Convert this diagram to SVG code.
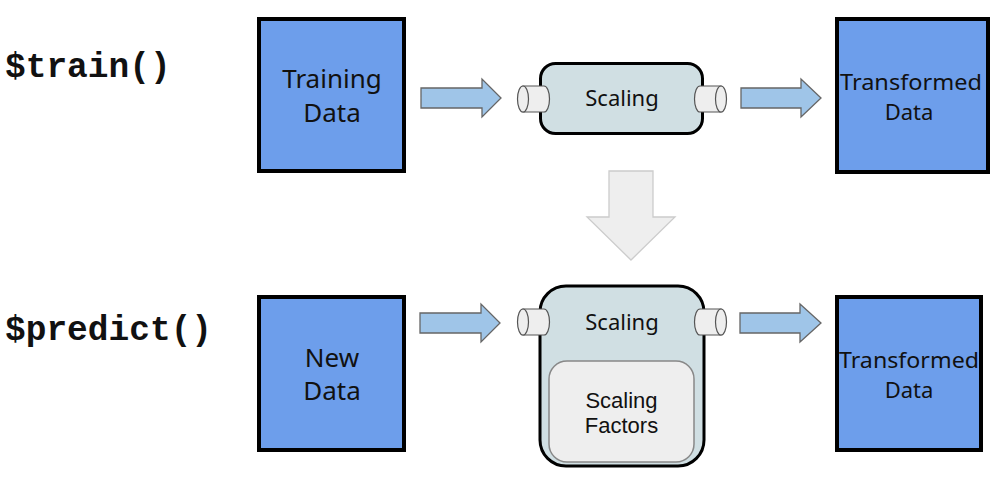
<svg xmlns="http://www.w3.org/2000/svg" width="992" height="477" viewBox="0 0 992 477">
<style>
.data{fill:#6d9eeb;stroke:#000;stroke-width:4}
.dt{font-family:"Noto Sans","Open Sans",sans-serif;font-size:26px;fill:#111;text-anchor:middle}
.tt{font-family:"Noto Sans","Open Sans",sans-serif;font-size:22px;fill:#111;text-anchor:middle}
.code{font-family:"Liberation Mono","Courier New",monospace;font-weight:bold;font-size:34.5px;fill:#111}
.proc{fill:#d0dfe3;stroke:#000;stroke-width:3}
.pt{font-family:"Noto Sans","Open Sans",sans-serif;font-size:22px;fill:#111;text-anchor:middle}
.cyl{fill:#eeeeee;stroke:#555;stroke-width:1.2}
.arr{fill:#9fc5e8;stroke:#666;stroke-width:1.3}
.inner{fill:#eeeeee;stroke:#888;stroke-width:1.5}
.it{font-family:"Liberation Sans",Arial,sans-serif;font-size:22px;fill:#111;text-anchor:middle}
</style>
<rect width="992" height="477" fill="#fff"/>
<text class="code" x="5" y="77">$train()</text>
<text class="code" x="5" y="340">$predict()</text>

<g id="training-data">
<rect class="data" x="259" y="19" width="145" height="152"/>
<text class="dt" x="332" y="88">Training</text>
<text class="dt" x="332" y="122">Data</text>
</g>
<g id="transformed-data-top">
<rect class="data" x="837" y="19" width="151" height="153"/>
<text class="tt" x="911" y="90" textLength="142" lengthAdjust="spacingAndGlyphs">Transformed</text>
<text class="tt" x="909" y="120">Data</text>
</g>
<g id="new-data">
<rect class="data" x="259" y="297" width="145" height="153"/>
<text class="dt" x="332" y="367">New</text>
<text class="dt" x="332" y="400">Data</text>
</g>
<g id="transformed-data-bottom">
<rect class="data" x="837" y="297" width="144" height="153"/>
<text class="tt" x="909" y="368" textLength="140" lengthAdjust="spacingAndGlyphs">Transformed</text>
<text class="tt" x="909" y="398">Data</text>
</g>

<g id="scaling-train">
<rect class="proc" x="540.5" y="63.5" width="162" height="70" rx="15"/>
<text class="pt" x="622" y="106">Scaling</text>
<path class="cyl" d="M523 86 H544 A5.5 13 0 0 1 544 112 H523 Z"/>
<ellipse class="cyl" cx="523" cy="99" rx="5.5" ry="13"/>
<path class="cyl" d="M721 86 H700 A5.5 13 0 0 0 700 112 H721 Z"/>
<ellipse class="cyl" cx="721" cy="99" rx="5.5" ry="13"/>
</g>

<g id="scaling-predict">
<rect class="proc" x="540" y="286" width="164" height="180" rx="26"/>
<text class="pt" x="622" y="330">Scaling</text>
<path class="cyl" d="M523 309 H544 A5.5 13 0 0 1 544 335 H523 Z"/>
<ellipse class="cyl" cx="523" cy="322" rx="5.5" ry="13"/>
<path class="cyl" d="M721 309 H700 A5.5 13 0 0 0 700 335 H721 Z"/>
<ellipse class="cyl" cx="721" cy="322" rx="5.5" ry="13"/>
<g id="scaling-factors">
<rect class="inner" x="549" y="361" width="145" height="101" rx="18"/>
<text class="it" x="621.5" y="408">Scaling</text>
<text class="it" x="621.5" y="433">Factors</text>
</g>
</g>

<g id="connectors">
<polygon class="arr" points="421,88 482,88 482,79 501,98 482,117 482,108 421,108"/>
<polygon class="arr" points="741,88 801,88 801,79 821,98 801,117 801,108 741,108"/>
<polygon class="arr" points="420,313 481,313 481,304 500,323 481,342 481,333 420,333"/>
<polygon class="arr" points="740,313 800,313 800,304 821,323 800,342 800,333 740,333"/>
<polygon points="609,171 653,171 653,217 675,217 631,260 587,217 609,217" fill="#eeeeee" stroke="#cccccc" stroke-width="1.3"/>
</g>
</svg>
